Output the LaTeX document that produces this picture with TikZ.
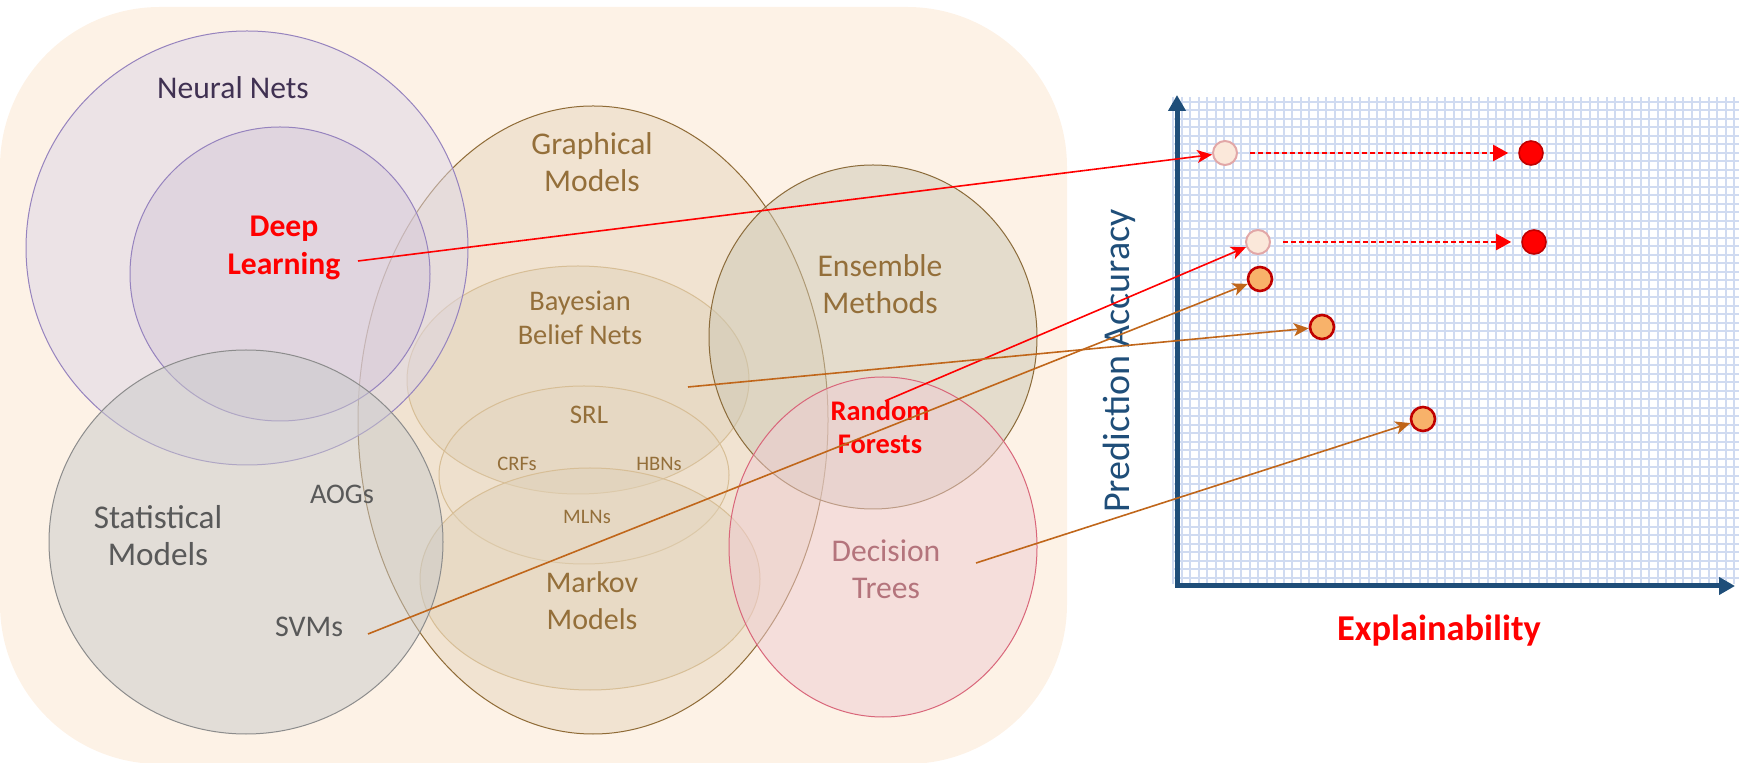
\documentclass[tikz,border=0pt]{standalone}
\usepackage{fontspec}
\setmainfont{Carlito}
\usetikzlibrary{arrows.meta}

\definecolor{panelbg}{HTML}{FDF2E6}
\definecolor{gmfill}{HTML}{E7D6BE}
\definecolor{gmline}{HTML}{8F6B36}
\definecolor{subfill}{HTML}{E0D2BA}
\definecolor{subline}{HTML}{D7BE96}
\definecolor{emfill}{HTML}{CDC8B4}
\definecolor{emline}{HTML}{8B6B3A}
\definecolor{nnfill}{HTML}{DDD6E6}
\definecolor{nnline}{HTML}{9683BE}
\definecolor{dlfill}{HTML}{D5C8DA}
\definecolor{smfill}{HTML}{C9CACA}
\definecolor{smline}{HTML}{8C8C8C}
\definecolor{dtfill}{HTML}{EFCCD2}
\definecolor{dtline}{HTML}{D9667A}
\definecolor{gmtext}{HTML}{946F3A}
\definecolor{nntext}{HTML}{403152}
\definecolor{smtext}{HTML}{595959}
\definecolor{dttext}{HTML}{B4747C}
\definecolor{axisblue}{HTML}{1F4E79}
\definecolor{gridblue}{HTML}{D0DBF1}
\definecolor{linkorange}{HTML}{C0661A}
\definecolor{dotorange}{HTML}{F8B26A}
\definecolor{dotborder}{HTML}{C00000}
\definecolor{fadefill}{HTML}{FBE8DA}
\definecolor{fadeline}{HTML}{E2A7A7}

\newcommand{\fsz}[2]{\fontsize{#1pt}{#2pt}\selectfont}

\begin{document}
\begin{tikzpicture}[x=0.5pt, y=-0.5pt,
  bgpanel/.style={fill=panelbg, rounded corners=80pt},
  venn/.style={line width=0.5pt, fill opacity=0.5},
  lab/.style={align=center, inner sep=0pt, text=gmtext, font=\fsz{15.8}{18.5}},
  small/.style={lab, font=\fsz{10.3}{12}},
  hot/.style={align=center, inner sep=0pt, text=red, font=\bfseries\fsz{15.8}{19}},
  gridline/.style={draw=gridblue, line width=1pt},
  axisline/.style={draw=axisblue, line width=2.5pt, line cap=rect,
                   -{Triangle[length=8pt, width=8.5pt]}},
  fadedot/.style={circle, minimum size=12pt, inner sep=0pt, fill=fadefill,
                  draw=fadeline, line width=1pt},
  reddot/.style={circle, minimum size=12pt, inner sep=0pt, fill=red,
                 draw=dotborder, line width=0.8pt},
  orangedot/.style={circle, minimum size=12pt, inner sep=0pt, fill=dotorange,
                    draw=dotborder, line width=1.3pt},
  redlink/.style={draw=red, line width=0.8pt,
                  -{Stealth[length=7.5pt, width=6.5pt, inset=2pt]}},
  orangelink/.style={redlink, draw=linkorange},
  shiftlink/.style={draw=red, line width=1pt, dash pattern=on 2.5pt off 1.5pt,
                -{Triangle[length=7.5pt, width=8pt]}, shorten <=6pt, shorten >=5pt},
]
\useasboundingbox (0,0) rectangle (1739,763);

% --- Panel ---
\fill[bgpanel] (0,7) rectangle (1067,764);

% --- Venn regions ---
\draw[venn, fill=gmfill, draw=gmline] (593,420) ellipse [x radius=235, y radius=314];
\draw[venn, fill=subfill, draw=subline] (578,380) ellipse [x radius=171, y radius=114];
\draw[venn, fill=subfill, fill opacity=0.15, draw=subline] (584,475) ellipse [x radius=145, y radius=89];
\draw[venn, fill=subfill, draw=subline] (590,579) ellipse [x radius=170, y radius=111];
\draw[venn, fill=emfill, draw=emline] (873,337) ellipse [x radius=164, y radius=172];
\draw[venn, fill=nnfill, draw=nnline] (247,248) ellipse [x radius=221, y radius=217];
\draw[venn, fill=dlfill, draw=nnline] (280,274) ellipse [x radius=150, y radius=147];
\draw[venn, fill=smfill, draw=smline] (246,542) ellipse [x radius=197, y radius=192];
\draw[venn, fill=dtfill, draw=dtline] (883,547) ellipse [x radius=154, y radius=170];

% --- Labels ---
\node[lab, text=nntext] (nn) at (233,88) {Neural Nets};
\node[hot] (dl) at (284,248) {Deep\\Learning};
\node[lab] (gm) at (592,162) {Graphical\\Models};
\node[lab] (em) at (880,284) {Ensemble\\Methods};
\node[lab, font=\fsz{14.2}{17}] (bbn) at (580,318) {Bayesian\\Belief Nets};
\node[lab, font=\fsz{13.4}{15}] (srl) at (589,415) {SRL};
\node[small] (crf) at (517,464) {CRFs};
\node[small] (hbn) at (659,464) {HBNs};
\node[small] (mln) at (587,517) {MLNs};
\node[lab, font=\fsz{15}{18.5}] (mm) at (592,601) {Markov\\Models};
\node[lab, text=smtext, font=\fsz{16.6}{18.5}] (sm) at (158,536) {Statistical\\Models};
\node[lab, text=smtext, font=\fsz{14.2}{16}] (aog) at (342,494) {AOGs};
\node[lab, text=smtext, font=\fsz{15}{17}] (svm) at (309,627) {SVMs};
\node[hot, font=\bfseries\fsz{14.2}{16.5}] (rf) at (880,427) {Random\\Forests};
\node[lab, text=dttext] (dt) at (886,569) {Decision\\Trees};

% --- Plot ---
\draw[gridline, step=4.25pt] (1172,97) grid (1739,584);
\coordinate (origin) at (1177,586);
\coordinate (ytip) at (1177,95);
\coordinate (xtip) at (1735,586);
\draw[axisline] (origin) -- (ytip);
\draw[axisline] (origin) -- (xtip);
\node[text=red, font=\bfseries\fsz{18.2}{20}] (xlab) at (1439,631) {Explainability};
\node[text=axisblue, font=\fsz{19}{21}, rotate=90] (ylab) at (1119,361) {Prediction Accuracy};

% --- Dots ---
\node[fadedot] (dlold) at (1225,153) {};
\node[reddot] (dlnew) at (1531,153) {};
\node[fadedot] (rfold) at (1258,242) {};
\node[reddot] (rfnew) at (1534,242) {};
\node[orangedot] (svmdot) at (1260,279) {};
\node[orangedot] (bbndot) at (1322,327) {};
\node[orangedot] (dtdot) at (1423,419) {};

% --- Connectors ---
\coordinate (dlfrom) at (358,261);
\coordinate (rffrom) at (885,401);
\coordinate (svmfrom) at (368,634);
\coordinate (bbnfrom) at (688,387);
\coordinate (dtfrom) at (976,563);

\draw[redlink] (dlfrom) -- (dlold);
\draw[redlink] (rffrom) -- (rfold);
\draw[orangelink] (svmfrom) -- (svmdot);
\draw[orangelink] (bbnfrom) -- (bbndot);
\draw[orangelink] (dtfrom) -- (dtdot);

\draw[shiftlink] (dlold) -- (dlnew);
\draw[shiftlink] (rfold) -- (rfnew);

\end{tikzpicture}
\end{document}
